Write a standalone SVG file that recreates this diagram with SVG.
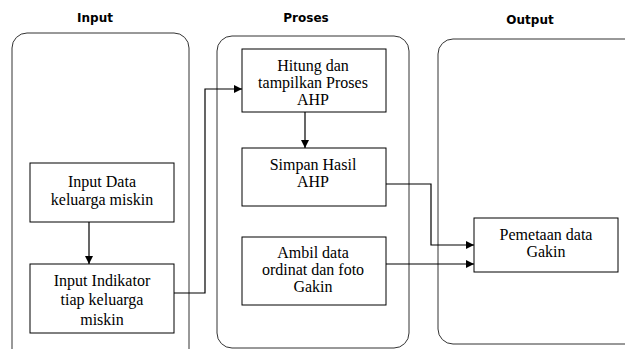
<svg xmlns="http://www.w3.org/2000/svg" width="625" height="349" viewBox="0 0 625 349">
<style>
.title{font-family:"DejaVu Sans",sans-serif;font-weight:bold;font-size:12px;fill:#000;text-anchor:middle}
.lane{fill:none;stroke:#333;stroke-width:1}
.box{fill:#fff;stroke:#000;stroke-width:1}
.t{font-family:"Liberation Serif","Times New Roman",serif;font-size:16px;fill:#000;text-anchor:middle}
.c{fill:none;stroke:#000;stroke-width:1.2}
</style>
<defs>
<marker id="ah" viewBox="0 0 10 10" refX="10" refY="5" markerWidth="9" markerHeight="8" markerUnits="userSpaceOnUse" orient="auto">
<path d="M0,0 L10,5 L0,10 z" fill="#000"/>
</marker>
</defs>
<rect width="625" height="349" fill="#fff"/>
<g id="lanes">
<text class="title" x="95" y="22">Input</text>
<text class="title" x="306" y="22">Proses</text>
<text class="title" x="530" y="24">Output</text>
<rect class="lane" x="12" y="33" width="177" height="340" rx="15" ry="15"/>
<rect class="lane" x="217" y="36" width="192" height="312" rx="15" ry="15"/>
<rect class="lane" x="438" y="39" width="210" height="305" rx="15" ry="15"/>
</g>
<g id="connectors">
<path class="c" d="M89,222 V264" marker-end="url(#ah)"/>
<path class="c" d="M174,293 H205 V89 H242" marker-end="url(#ah)"/>
<path class="c" d="M305,112 V148" marker-end="url(#ah)"/>
<path class="c" d="M386,184 H431 V245 H474" marker-end="url(#ah)"/>
<path class="c" d="M386,264 H474" marker-end="url(#ah)"/>
</g>
<g id="n1">
<rect class="box" x="30" y="163" width="144" height="59"/>
<text class="t" x="102" y="187">Input Data</text>
<text class="t" x="102" y="205">keluarga miskin</text>
</g>
<g id="n2">
<rect class="box" x="30" y="264" width="144" height="69"/>
<text class="t" x="102" y="286">Input Indikator</text>
<text class="t" x="102" y="305">tiap keluarga</text>
<text class="t" x="102" y="325">miskin</text>
</g>
<g id="n3">
<rect class="box" x="242" y="49" width="144" height="63"/>
<text class="t" x="313" y="71">Hitung dan</text>
<text class="t" x="313" y="88">tampilkan Proses</text>
<text class="t" x="313" y="105">AHP</text>
</g>
<g id="n4">
<rect class="box" x="242" y="148" width="144" height="58"/>
<text class="t" x="313" y="170">Simpan Hasil</text>
<text class="t" x="313" y="187">AHP</text>
</g>
<g id="n5">
<rect class="box" x="242" y="237" width="144" height="68"/>
<text class="t" x="313" y="258">Ambil data</text>
<text class="t" x="313" y="275">ordinat dan foto</text>
<text class="t" x="313" y="292">Gakin</text>
</g>
<g id="n6">
<rect class="box" x="474" y="218" width="144" height="54"/>
<text class="t" x="546" y="240">Pemetaan data</text>
<text class="t" x="546" y="257">Gakin</text>
</g>
</svg>
